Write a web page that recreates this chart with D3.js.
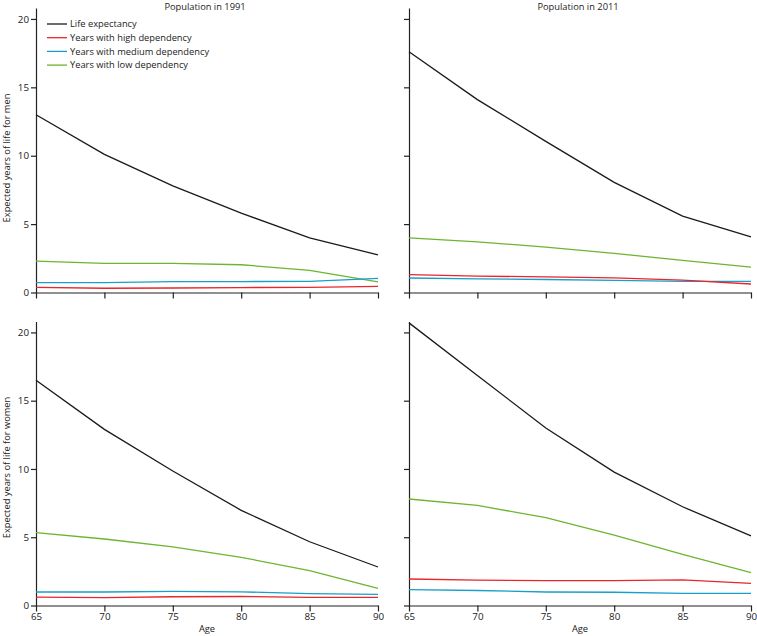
<!DOCTYPE html>
<html><head><meta charset="utf-8">
<script src="https://cdn.jsdelivr.net/npm/d3@7"></script>
<style>body{margin:0;background:#fff}svg{display:block}text{font-family:"Open Sans",sans-serif}</style>
</head><body>
<script>
const ages = [65, 70, 75, 80, 85, 90];
const seriesNames = ["Life expectancy", "Years with high dependency", "Years with medium dependency", "Years with low dependency"];
const seriesColors = ["#1a1a1a", "#e8262b", "#1b9ec9", "#6cb52f"];
const yTicks = [0, 5, 10, 15, 20];
const panelTitles = ["Population in 1991", "Population in 2011"];
const rowLabels = ["Expected years of life for men", "Expected years of life for women"];

// men 1991
const men1991Life = [13.0, 10.1, 7.8, 5.8, 4.0, 2.75];
const men1991High = [0.38, 0.31, 0.33, 0.36, 0.38, 0.45];
const men1991Med = [0.72, 0.72, 0.8, 0.8, 0.82, 1.04];
const men1991Low = [2.3, 2.13, 2.13, 2.03, 1.62, 0.77];
// men 2011
const men2011Life = [17.6, 14.1, 11.05, 8.05, 5.58, 4.07];
const men2011High = [1.3, 1.2, 1.14, 1.07, 0.9, 0.62];
const men2011Med = [1.06, 0.99, 0.95, 0.88, 0.82, 0.82];
const men2011Low = [4.0, 3.7, 3.32, 2.86, 2.35, 1.86];
// women 1991
const women1991Life = [16.5, 12.9, 9.85, 6.97, 4.67, 2.82];
const women1991High = [0.62, 0.58, 0.64, 0.66, 0.6, 0.6];
const women1991Med = [0.99, 0.99, 1.04, 1.0, 0.87, 0.82];
const women1991Low = [5.33, 4.87, 4.3, 3.53, 2.55, 1.26];
// women 2011
const women2011Life = [20.7, 16.85, 13.0, 9.77, 7.23, 5.1];
const women2011High = [1.94, 1.86, 1.82, 1.82, 1.87, 1.62];
const women2011Med = [1.16, 1.1, 0.99, 0.97, 0.89, 0.89];
const women2011Low = [7.8, 7.33, 6.43, 5.16, 3.75, 2.4];

const panels = [
  {row:0, col:0, data:[men1991Life, men1991High, men1991Med, men1991Low]},
  {row:0, col:1, data:[men2011Life, men2011High, men2011Med, men2011Low]},
  {row:1, col:0, data:[women1991Life, women1991High, women1991Med, women1991Low]},
  {row:1, col:1, data:[women2011Life, women2011High, women2011Med, women2011Low]}
];

const W = 757, H = 636;
const svg = d3.select("body").append("svg").attr("width", W).attr("height", H);
const colX = [[36, 378], [409, 751]];
const rowY = [[292.5, 8], [605.5, 321.5]];
const labelCY = [158, 467.5];
const yMax = 20.8;

panels.forEach(p => {
  const x = d3.scaleLinear().domain([65, 90]).range(colX[p.col]);
  const y = d3.scaleLinear().domain([0, yMax]).range(rowY[p.row]);
  const g = svg.append("g");
  const xa = d3.axisBottom(x).tickValues(ages).tickSizeInner(6).tickSizeOuter(0).tickPadding(2)
    .tickFormat(p.row === 1 ? d3.format("d") : () => "");
  const gx = g.append("g").attr("transform", `translate(0,${rowY[p.row][0]})`).call(xa);
  const ya = d3.axisLeft(y).tickValues(yTicks).tickSizeInner(5).tickSizeOuter(0).tickPadding(2)
    .tickFormat(p.col === 0 ? d3.format("d") : () => "");
  const gy = g.append("g").attr("transform", `translate(${colX[p.col][0]},0)`).call(ya);
  [gx, gy].forEach(a => {
    a.select(".domain").attr("stroke", "#222").attr("stroke-width", 1.2);
    a.selectAll(".tick line").attr("stroke", "#222").attr("stroke-width", 1.2);
    a.selectAll(".tick text").attr("fill", "#222").style("font-size", "9.8px").style("font-family", '"Open Sans",sans-serif');
  });
  const line = d3.line().x((d, i) => x(ages[i])).y(d => y(d));
  [3, 2, 1, 0].forEach(si => {
    g.append("path").datum(p.data[si]).attr("d", line)
      .attr("fill", "none").attr("stroke", seriesColors[si]).attr("stroke-width", 1.3);
  });
  if (p.row === 1) {
    g.append("text").attr("x", (colX[p.col][0] + colX[p.col][1]) / 2).attr("y", 632)
      .attr("text-anchor", "middle").style("font-size", "9.3px").attr("fill", "#222").text("Age");
  }
  if (p.row === 0) {
    g.append("text").attr("x", (colX[p.col][0] + colX[p.col][1]) / 2 - 2).attr("y", 9.5)
      .attr("text-anchor", "middle").style("font-size", "9.3px").attr("fill", "#222").text(panelTitles[p.col]);
  }
  if (p.col === 0) {
    g.append("text").attr("transform", `translate(10,${labelCY[p.row]}) rotate(-90)`)
      .attr("text-anchor", "middle").style("font-size", "9.3px").attr("fill", "#222").text(rowLabels[p.row]);
  }
});

const lg = svg.append("g").attr("transform", "translate(47,24)");
seriesNames.forEach((n, i) => {
  const r = lg.append("g").attr("transform", `translate(0,${i * 13.7})`);
  r.append("line").attr("x1", 0).attr("x2", 20).attr("y1", 0).attr("y2", 0)
    .attr("stroke", seriesColors[i]).attr("stroke-width", 1.3);
  r.append("text").attr("x", 23).attr("y", 3.3).style("font-size", "9.3px").attr("fill", "#222").text(n);
});
</script>
</body></html>
